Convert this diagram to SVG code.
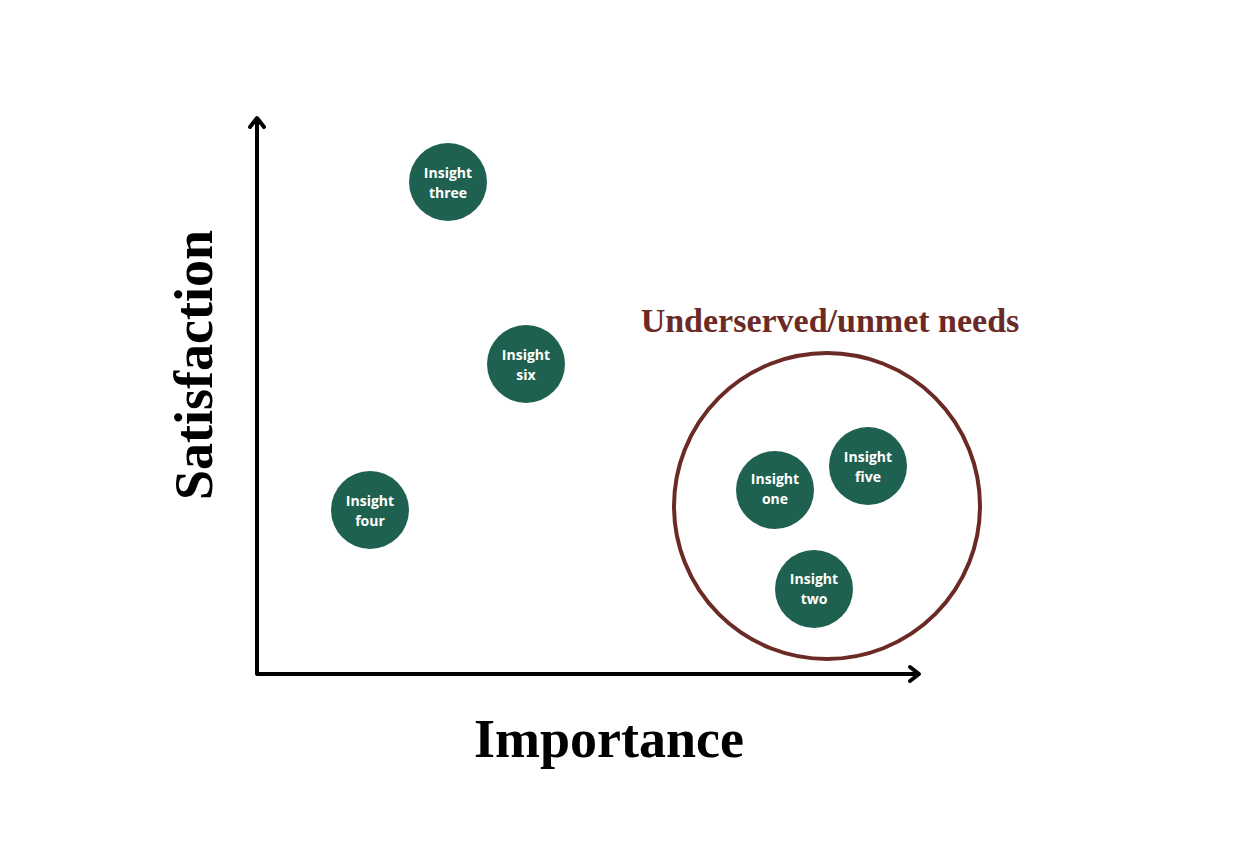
<svg xmlns="http://www.w3.org/2000/svg" width="1250" height="854" viewBox="0 0 1250 854">
<style>
.n{fill:#1f6150}
.t{fill:#fff;font-family:"Open Sans",sans-serif;font-weight:bold;font-size:14px;text-anchor:middle}
.ax{stroke:#000;stroke-width:4;fill:none;stroke-linecap:round;stroke-linejoin:round}
.lab{font-family:"Liberation Serif",serif;font-weight:bold;text-anchor:middle}
</style>
<rect width="1250" height="854" fill="#fff"/>
<g id="connectors">
<path class="ax" d="M257 120 V674 H918"/>
<path class="ax" d="M250 127 L257 118 L264 127"/>
<path class="ax" d="M910 667 L919 674 L910 681"/>
</g>
<g id="region"><circle cx="827" cy="506" r="153" fill="none" stroke="#6b2a25" stroke-width="4"/>
<text class="lab" x="830" y="332" font-size="34" fill="#6b2a25">Underserved/unmet needs</text></g>
<g id="three"><circle class="n" cx="448" cy="182" r="39"/><text class="t" x="448" y="178">Insight</text><text class="t" x="448" y="198">three</text></g>
<g id="six"><circle class="n" cx="526" cy="364" r="39"/><text class="t" x="526" y="360">Insight</text><text class="t" x="526" y="380">six</text></g>
<g id="four"><circle class="n" cx="370" cy="510" r="39"/><text class="t" x="370" y="506">Insight</text><text class="t" x="370" y="526">four</text></g>
<g id="one"><circle class="n" cx="775" cy="490" r="39"/><text class="t" x="775" y="484">Insight</text><text class="t" x="775" y="504">one</text></g>
<g id="five"><circle class="n" cx="868" cy="466" r="39"/><text class="t" x="868" y="462">Insight</text><text class="t" x="868" y="482">five</text></g>
<g id="two"><circle class="n" cx="814" cy="589" r="39"/><text class="t" x="814" y="584">Insight</text><text class="t" x="814" y="604">two</text></g>
<text class="lab" x="609" y="757" font-size="54">Importance</text>
<text class="lab" transform="translate(212 365) rotate(-90)" font-size="54">Satisfaction</text>
</svg>
